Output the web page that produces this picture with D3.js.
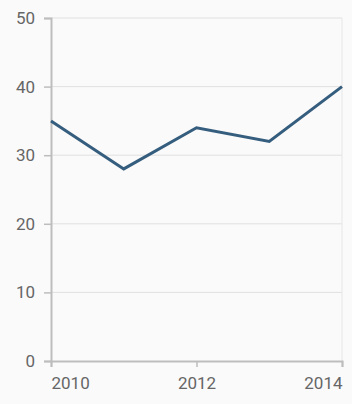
<!DOCTYPE html>
<html>
<head>
<meta charset="utf-8">
<script src="https://cdn.jsdelivr.net/npm/d3@7"></script>
<style>
  body { margin: 0; background: #fafafa; }
  svg { display: block; font-family: Roboto, sans-serif; }
</style>
</head>
<body>
<script>
var years = [2010, 2011, 2012, 2013, 2014];
var values = [35, 28, 34, 32, 40];
var yTicks = [0, 10, 20, 30, 40, 50];
var xTicks = [2010, 2012, 2014];

var width = 352, height = 404;
var margin = {top: 18, right: 10, bottom: 43, left: 51};

var x = d3.scaleLinear()
          .domain([2010, 2014])
          .range([margin.left, width - margin.right]);
var y = d3.scaleLinear()
          .domain([0, 50])
          .range([height - margin.bottom, margin.top]);

var svg = d3.select("body").append("svg")
            .attr("width", width)
            .attr("height", height);

svg.append("rect")
    .attr("width", width)
    .attr("height", height)
    .attr("fill", "#fafafa");

// horizontal grid
svg.append("g")
    .selectAll("line")
    .data(yTicks.slice(1))
    .enter().append("line")
      .attr("x1", margin.left)
      .attr("x2", width - margin.right)
      .attr("y1", function(d) { return y(d); })
      .attr("y2", function(d) { return y(d); })
      .attr("stroke", "#e0e0e0")
      .attr("stroke-width", 1);

// right border
svg.append("line")
    .attr("x1", x(2014)).attr("x2", x(2014))
    .attr("y1", y(50)).attr("y2", y(0))
    .attr("stroke", "#e6e6e6");

// y axis
var yAxis = svg.append("g")
    .attr("transform", "translate(" + margin.left + ",0)")
    .call(d3.axisLeft(y).tickValues(yTicks).tickSize(7).tickPadding(9));

// x axis
var xAxis = svg.append("g")
    .attr("transform", "translate(0," + y(0) + ")")
    .call(d3.axisBottom(x).tickValues(xTicks).tickFormat(d3.format("d")).tickSize(6).tickPadding(10));

[yAxis, xAxis].forEach(function(ax) {
  ax.select(".domain").attr("stroke", "#bdbdbd").attr("stroke-width", 2);
  ax.selectAll(".tick line").attr("stroke", "#bdbdbd").attr("stroke-width", 1.5);
  ax.selectAll("text").attr("fill", "#666").style("font-size", "17px").style("font-family", "Roboto, sans-serif");
});

xAxis.selectAll(".tick text")
    .attr("text-anchor", function(d, i) {
      return i == 0 ? "start" : (i == xTicks.length - 1 ? "end" : "middle");
    });

// line
var line = d3.line()
    .x(function(d, i) { return x(years[i]); })
    .y(function(d) { return y(d); });

svg.append("path")
    .datum(values)
    .attr("d", line)
    .attr("fill", "none")
    .attr("stroke", "#355d7e")
    .attr("stroke-width", 3)
    .attr("stroke-linejoin", "miter");
</script>
</body>
</html>
